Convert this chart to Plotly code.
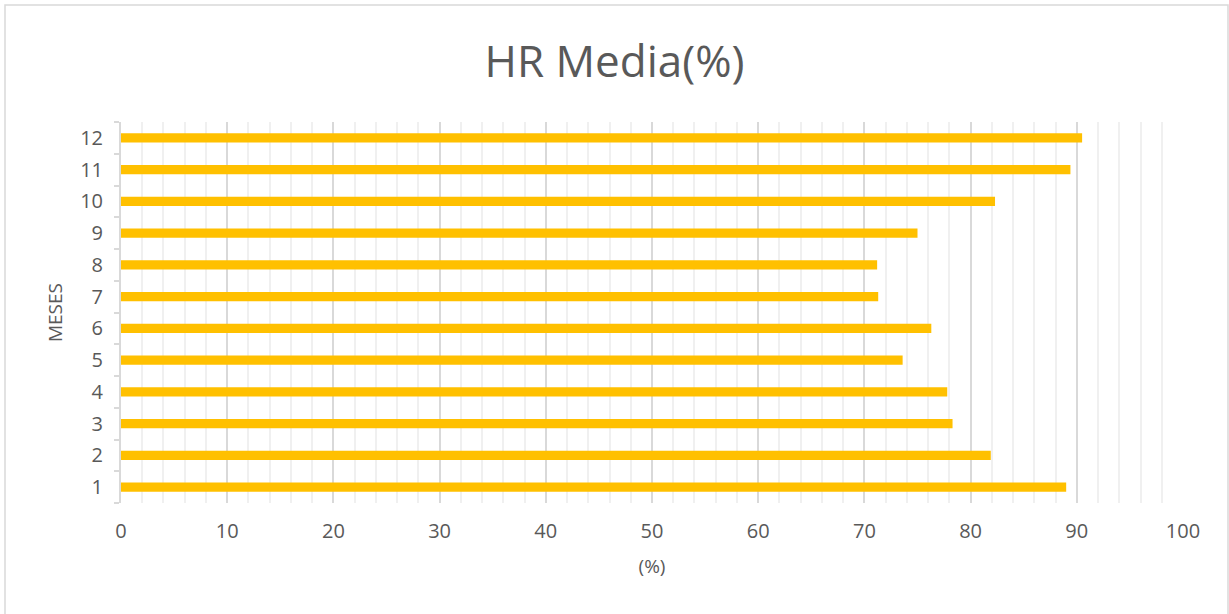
import plotly.graph_objects as go

meses = ["1", "2", "3", "4", "5", "6", "7", "8", "9", "10", "11", "12"]
hr_media = [89.0, 81.9, 78.3, 77.8, 73.6, 76.3, 71.3, 71.2, 75.0, 82.3, 89.4, 90.5]

title_text = "HR Media(%)"
x_title = "(%)"
y_title = "MESES"

FONT = "Open Sans"
TXT = "#595959"

fig = go.Figure()
fig.add_trace(go.Bar(
    x=hr_media, y=meses, orientation="h",
    marker=dict(color="#FFC000", line=dict(width=0)),
    width=0.29,
    hoverinfo="x+y",
))

W, H = 1229, 614
L, R, T, B = 121, 46, 122, 111
pw, ph = W - L - R, H - T - B

fig.update_layout(
    width=W, height=H,
    margin=dict(l=L, r=R, t=T, b=B),
    paper_bgcolor="white", plot_bgcolor="white",
    showlegend=False,
    title=dict(text=title_text, x=0.5, xanchor="center", y=1 - 62 / H, yanchor="middle",
               font=dict(family=FONT, size=44, color=TXT)),
    xaxis=dict(
        range=[0, 100], tick0=0, dtick=10,
        showgrid=True, gridcolor="#d9d9d9", gridwidth=2,
        minor=dict(dtick=2, showgrid=True, gridcolor="#f0f0f0", gridwidth=2),
        zeroline=False, showline=False,
        tickfont=dict(family=FONT, size=20, color=TXT),
        title=dict(text=x_title, font=dict(family=FONT, size=19, color=TXT), standoff=16),
        ticks="", ticklabelstandoff=14,
        fixedrange=True,
    ),
    yaxis=dict(
        type="category", categoryorder="array", categoryarray=meses,
        range=[-0.5, 11.5],
        showgrid=False, zeroline=False,
        showline=True, linecolor="#d9d9d9", linewidth=2,
        ticks="outside", tickson="boundaries", ticklen=5, tickcolor="#d9d9d9", tickwidth=2,
        tickfont=dict(family=FONT, size=20, color=TXT),
        ticklabelstandoff=12,
        title=dict(text=y_title, font=dict(family=FONT, size=19, color=TXT), standoff=12),
        fixedrange=True,
    ),
    shapes=[dict(type="rect", xref="paper", yref="paper",
                 x0=(5 - L) / pw, x1=(1228 - L) / pw, y0=(H - 630 - B) / ph, y1=(H - 5 - B) / ph,
                 line=dict(color="#d9d9d9", width=1.5), fillcolor="rgba(0,0,0,0)", layer="below")],
)

fig.write_html("out.html", config={"displayModeBar": False},
               post_script="document.body.style.margin='0';document.body.style.padding='0';")
